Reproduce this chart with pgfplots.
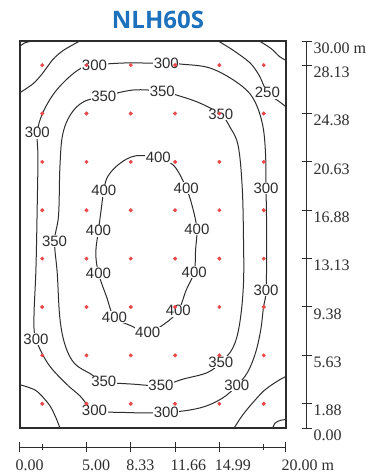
\documentclass[border=0pt]{standalone}
\usepackage{fontspec}
\setmainfont{Liberation Serif}
\newfontfamily\labf{Liberation Sans}
\newfontfamily\titlef{Open Sans}
\usepackage{pgfplots}
\pgfplotsset{compat=1.18}
\definecolor{ttl}{RGB}{28,112,188}
\definecolor{dotred}{RGB}{232,72,72}
\definecolor{ln}{RGB}{45,45,45}
\begin{document}
\begin{tikzpicture}
\useasboundingbox (-20pt,-47pt) rectangle (352pt,428pt);
\begin{axis}[scale only axis, width=266pt, height=387pt,
  xmin=0, xmax=20, ymin=0, ymax=30,
  axis line style={draw=ln, line width=1.6pt},
  xtick=\empty, ytick=\empty]
% 300 loop
\addplot[ln, line width=1pt, smooth, tension=0.6] coordinates {
(5.6,28.15) (8.0,28.3) (11.0,28.25) (12.2,28.2) (14.3,27.9) (16.3,26.8) (17.5,25.6)
(18.2,23.7) (18.45,21.5) (18.5,18.6) (18.55,14.5) (18.5,10.7) (18.3,9.3) (18.1,7.6)
(17.7,5.8) (17.1,4.3) (16.3,3.3) (15.2,2.3) (13.5,1.55) (11.0,1.2) (8.0,1.2) (5.6,1.4)
(4.5,2.5) (3.4,3.5) (2.1,5.0) (1.2,6.9) (1.05,8.5) (1.2,12.4) (1.3,17.5) (1.35,21.0)
(1.3,22.9) (1.7,24.4) (2.6,26.0) (3.8,27.3) (4.8,28.0) (5.6,28.15)};
% 350 loop
\addplot[ln, line width=1pt, smooth, tension=0.6] coordinates {
(6.3,25.7) (8.5,26.2) (10.7,26.1) (11.8,25.8) (13.5,25.2) (15.1,24.3) (15.8,23.3)
(16.4,21.9) (16.7,18.8) (16.8,15.0) (16.8,11.1) (16.5,8.0) (16.0,6.2) (15.1,5.1)
(14.1,4.3) (12.3,3.8) (10.6,3.3) (8.5,3.4) (6.3,3.6) (5.3,4.2) (4.1,5.0) (3.4,6.4)
(3.0,8.5) (2.8,12.0) (2.6,14.5) (2.9,16.5) (3.0,20.2) (3.2,22.7) (3.8,24.3) (4.8,25.3)
(6.3,25.7)};
% 400 loop
\addplot[ln, line width=1pt, smooth, tension=0.6] coordinates {
(10.4,21.0) (11.6,20.3) (12.5,18.6) (13.0,17.0) (13.3,15.4) (13.2,13.8) (13.1,12.1)
(12.5,10.7) (11.9,9.1) (10.9,8.1) (9.6,7.4) (8.4,7.9) (7.1,8.6) (6.5,10.2) (5.9,12.0)
(5.7,13.6) (5.9,15.3) (6.1,16.9) (6.3,18.4) (6.6,19.5) (7.5,20.5) (8.7,21.1) (10.4,21.0)};
% corner contours
\addplot[ln, line width=1pt, smooth] coordinates {(0,29.6) (0.35,29.85) (0.9,30)};
\addplot[ln, line width=1pt, smooth] coordinates {(4.5,30) (3.3,29.3) (2.5,28.6) (1.7,27.5) (1.0,26.7) (0,26.0)};
\addplot[ln, line width=1pt, smooth] coordinates {(14.9,30) (16.0,29.3) (17.3,28.3) (18.0,27.3) (18.6,26.0) (19.5,25.3) (20,24.9)};
\addplot[ln, line width=1pt, smooth] coordinates {(18.0,30) (18.9,29.4) (19.5,28.8) (20,28.5)};
\addplot[ln, line width=1pt, smooth] coordinates {(16.1,0) (16.6,0.8) (17.2,1.6) (18.3,2.85) (19.3,3.6) (20,4.0)};
\addplot[ln, line width=1pt, smooth] coordinates {(19.0,0) (19.2,0.4) (19.6,0.6) (20,0.65)};
\addplot[ln, line width=1pt, smooth] coordinates {(0,3.35) (1.2,2.9) (2.2,1.8) (2.7,0.8) (3.0,0)};
% labels
\begin{scope}[every node/.style={fill=white, inner sep=0.6pt, text=ln, font=\labf\fontsize{15}{16}\selectfont}]
\node at (axis cs:5.6,28.15) {300};
\node at (axis cs:11.0,28.25) {300};
\node at (axis cs:18.5,18.6) {300};
\node at (axis cs:18.5,10.7) {300};
\node at (axis cs:16.3,3.3) {300};
\node at (axis cs:11.0,1.2) {300};
\node at (axis cs:5.6,1.4) {300};
\node at (axis cs:1.2,6.9) {300};
\node at (axis cs:1.3,22.9) {300};
\node at (axis cs:6.3,25.7) {350};
\node at (axis cs:10.7,26.1) {350};
\node at (axis cs:15.1,24.3) {350};
\node at (axis cs:15.1,5.1) {350};
\node at (axis cs:10.6,3.3) {350};
\node at (axis cs:6.3,3.6) {350};
\node at (axis cs:2.6,14.5) {350};
\node at (axis cs:18.6,26.0) {250};
\node at (axis cs:10.4,21.0) {400};
\node at (axis cs:12.5,18.6) {400};
\node at (axis cs:13.3,15.4) {400};
\node at (axis cs:13.1,12.1) {400};
\node at (axis cs:11.9,9.1) {400};
\node at (axis cs:9.6,7.4) {400};
\node at (axis cs:7.1,8.6) {400};
\node at (axis cs:5.9,12.0) {400};
\node at (axis cs:5.9,15.3) {400};
\node at (axis cs:6.3,18.4) {400};
\end{scope}
% luminaire grid points
\addplot[only marks, mark=*, mark size=1.8pt, dotred, mark options={draw=none, fill=dotred}] table {
x y
1.67 1.88
5.00 1.88
8.33 1.88
11.66 1.88
14.99 1.88
18.33 1.88
1.67 5.63
5.00 5.63
8.33 5.63
11.66 5.63
14.99 5.63
18.33 5.63
1.67 9.38
5.00 9.38
8.33 9.38
11.66 9.38
14.99 9.38
18.33 9.38
1.67 13.13
5.00 13.13
8.33 13.13
11.66 13.13
14.99 13.13
18.33 13.13
1.67 16.88
5.00 16.88
8.33 16.88
11.66 16.88
14.99 16.88
18.33 16.88
1.67 20.63
5.00 20.63
8.33 20.63
11.66 20.63
14.99 20.63
18.33 20.63
1.67 24.38
5.00 24.38
8.33 24.38
11.66 24.38
14.99 24.38
18.33 24.38
1.67 28.13
5.00 28.13
8.33 28.13
11.66 28.13
14.99 28.13
18.33 28.13
};
\end{axis}
\begin{axis}[scale only axis, width=266pt, height=387pt,
  xmin=0, xmax=20, ymin=0, ymax=30,
  axis x line*=bottom, axis y line*=right,
  axis x line shift=19pt, axis y line shift=21pt,
  axis line style={draw=ln, line width=1pt},
  tick align=center, major tick length=10pt, minor tick length=6pt,
  tick style={draw=ln, line width=1pt},
  xtick={0,5,8.33,11.66,14.99,20},
  minor xtick={1.67,18.33},
  xticklabels={0.00,5.00,8.33,11.66,14.99,20.00 m},
  ticklabel style={font=\fontsize{16}{18}\selectfont, text=ln},
  ytick={0,1.88,5.63,9.38,13.13,16.88,20.63,24.38,28.13,30},
  yticklabels={0.00,1.88,5.63,9.38,13.13,16.88,20.63,24.38,28.13,30.00 m},
  xticklabel style={anchor=north west, xshift=-8pt, yshift=-4pt},
  yticklabel style={anchor=west, xshift=-2pt, yshift=-7pt},
]
\addplot[draw=none] coordinates {(0,0)};
\end{axis}
\node[font=\titlef\bfseries\fontsize{24}{28}\selectfont, text=ttl] at (138pt,408pt) {NLH60S};
\end{tikzpicture}
\end{document}
